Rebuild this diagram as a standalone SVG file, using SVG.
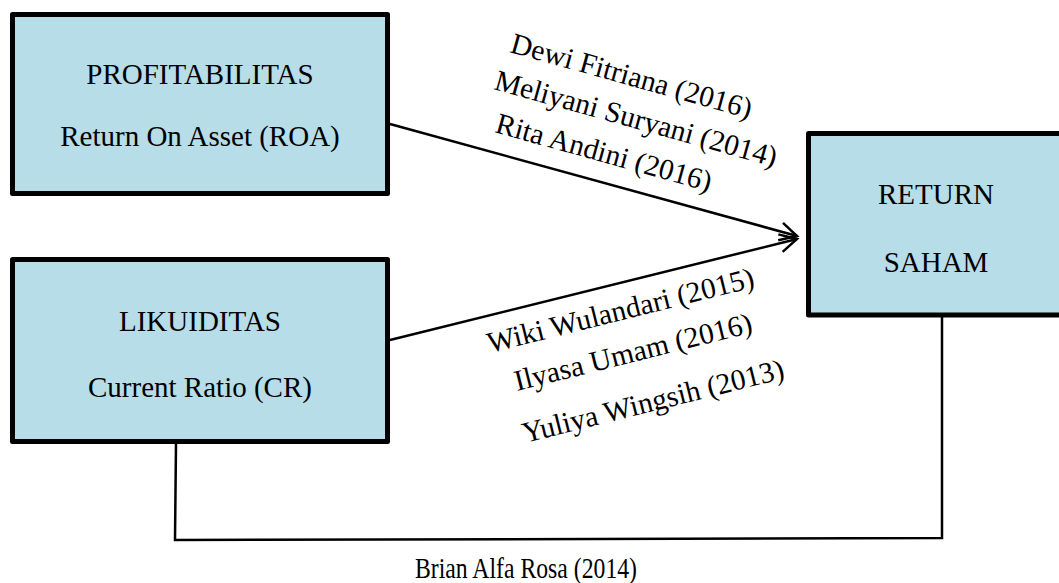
<svg xmlns="http://www.w3.org/2000/svg" width="1059" height="583" viewBox="0 0 1059 583">
  <defs>
    <style>
      .box { fill: #B7DDE8; stroke: #000; stroke-width: 5; stroke-linejoin: round; }
      .t { font-family: "Liberation Serif", "Times New Roman", serif; fill: #000; }
      .bt { font-size: 29px; text-anchor: middle; }
      .lbl { font-size: 29.5px; }
      .conn { fill: none; stroke: #000; stroke-width: 2.5; }
    </style>
    <marker id="arrow" markerUnits="userSpaceOnUse" markerWidth="24" markerHeight="24" viewBox="0 0 24 24" refX="21" refY="12" orient="auto">
      <path d="M4,3 L21,12 L4,21" fill="none" stroke="#000" stroke-width="2.5" stroke-linejoin="miter"/>
    </marker>
  </defs>
  <rect width="1059" height="583" fill="#fff"/>

  <g id="connectors">
    <line class="conn" x1="390" y1="124" x2="797" y2="236" marker-end="url(#arrow)"/>
    <line class="conn" x1="390" y1="340" x2="797" y2="239" marker-end="url(#arrow)"/>
    <polyline class="conn" stroke-width="2" points="176,444 175,540 942,538 942,317"/>
  </g>

  <g id="profitabilitas">
    <rect class="box" x="12.5" y="14.5" width="375" height="179"/>
    <text class="t bt" x="200" y="84">PROFITABILITAS</text>
    <text class="t bt" x="200" y="146">Return On Asset (ROA)</text>
  </g>

  <g id="likuiditas">
    <rect class="box" x="12.5" y="259.5" width="375" height="182"/>
    <text class="t bt" x="200" y="331">LIKUIDITAS</text>
    <text class="t bt" x="200" y="397">Current Ratio (CR)</text>
  </g>

  <g id="return-saham">
    <rect class="box" x="808.5" y="133.5" width="260" height="181.5"/>
    <text class="t bt" x="936" y="204">RETURN</text>
    <text class="t bt" x="936" y="272">SAHAM</text>
  </g>

  <g id="labels-profitabilitas">
    <text class="t lbl" transform="translate(509,52) rotate(15.5)">Dewi Fitriana (2016)</text>
    <text class="t lbl" transform="translate(493,89) rotate(15.5)">Meliyani Suryani (2014)</text>
    <text class="t lbl" transform="translate(494,132) rotate(15.5)">Rita Andini (2016)</text>
  </g>

  <g id="labels-likuiditas">
    <text class="t lbl" transform="translate(490,353) rotate(-14)">Wiki Wulandari (2015)</text>
    <text class="t lbl" transform="translate(517,391) rotate(-14)">Ilyasa Umam (2016)</text>
    <text class="t lbl" transform="translate(525,443) rotate(-14)">Yuliya Wingsih (2013)</text>
  </g>

  <g id="label-bottom">
    <text class="t lbl" x="415" y="578" textLength="222" lengthAdjust="spacingAndGlyphs">Brian Alfa Rosa (2014)</text>
  </g>
</svg>
